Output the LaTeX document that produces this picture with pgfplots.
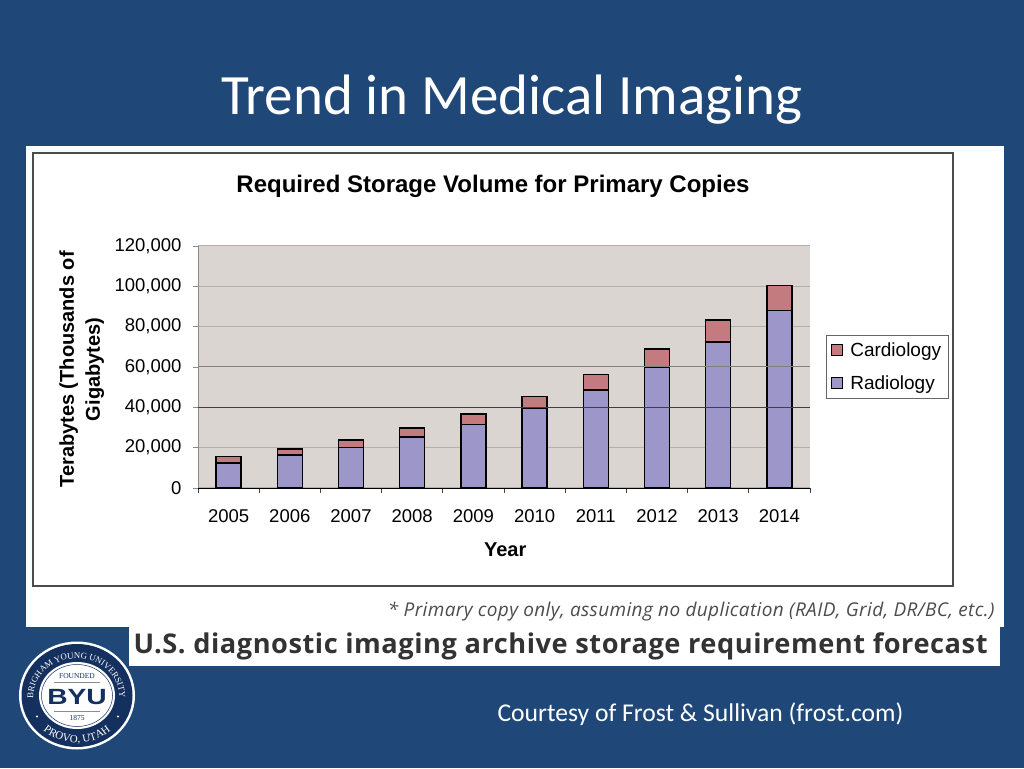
\documentclass[border=0pt]{standalone}
\usepackage{fontspec}
\setmainfont{Liberation Sans}
\newfontfamily\slidefont{Carlito}
\newfontfamily\notefont[LetterSpace=2]{Open Sans}
\newfontfamily\sealfont{Liberation Serif}
\usepackage{pgfplots}
\pgfplotsset{compat=1.18}
\usetikzlibrary{decorations.text}
\definecolor{slideblue}{HTML}{1F4879}
\definecolor{sealblue}{HTML}{14305F}
\definecolor{plotbg}{HTML}{DAD5D1}
\definecolor{radio}{HTML}{9D96C8}
\definecolor{cardio}{HTML}{C37B7F}
\definecolor{gridgrey}{HTML}{B4AFAB}
\pgfplotstableread{
x radiology cardiology
0 12500 3000
1 16300 3000
2 20000 3900
3 25300 4400
4 31400 5300
5 39700 5700
6 48600 7600
7 60000 8900
8 72400 10900
9 88100 12200
}\storage
\begin{document}
\begin{tikzpicture}[x=1pt,y=1pt]
\path[use as bounding box,fill=slideblue] (0,0) rectangle (1024,768);
\fill[white] (26,141) rectangle (1004,622);
\fill[white] (129,102) rectangle (1000,141);
\draw[color=black!70,line width=1.3pt] (33,182) rectangle (953,615);
\node[anchor=base,text=white,font=\slidefont\fontsize{57}{62}\selectfont] at (512,653) {Trend in Medical Imaging};
\begin{axis}[
  at={(198pt,280pt)},anchor=south west,
  width=612pt,height=242pt,scale only axis,
  xmin=-0.5,xmax=9.5,ymin=0,ymax=120000,
  ybar stacked,bar width=25pt,
  axis x line*=bottom,axis y line*=left,
  axis line style={-},
  x axis line style={black,line width=0.9pt},
  y axis line style={black!45,line width=0.9pt},
  axis background/.style={fill=plotbg},
  tick align=outside,
  xtick={0,...,9},
  xticklabels={2005,2006,2007,2008,2009,2010,2011,2012,2013,2014},
  minor xtick={-0.5,0.5,...,9.5},
  major x tick style={draw=none},
  minor x tick style={black!75,line width=0.8pt},
  minor tick length=5pt,
  major tick length=5pt,
  x tick label style={yshift=-13pt},
  y tick label style={xshift=-8pt},
  ytick={0,20000,...,120000},
  y tick style={black!45,line width=0.8pt},
  yticklabel style={/pgf/number format/.cd,fixed,assume math mode=true,1000 sep={,}},
  scaled y ticks=false,
  tick label style={font=\fontsize{18.5}{20}\selectfont},
  ymajorgrids,
  major grid style={gridgrey,line width=1pt},
  title={\textbf{Required Storage Volume for Primary Copies}},
  title style={at={(axis description cs:0.482,1.22)},anchor=center,yshift=0pt,font=\fontsize{24}{26}\selectfont},
  xlabel={\textbf{Year}},
  xlabel style={at={(axis description cs:0.502,-0.256)},anchor=center,font=\fontsize{20}{22}\selectfont},
  ylabel={\textbf{Terabytes (Thousands of}\\\textbf{Gigabytes)}},
  ylabel style={at={(axis description cs:-0.19,0.49)},anchor=center,align=center,font=\fontsize{20}{26}\selectfont},
  reverse legend,
  legend style={at={(1.026,0.632)},anchor=north west,draw=black!60,line width=0.8pt,
    font=\fontsize{19}{21}\selectfont,inner xsep=5pt,inner ysep=5pt,
    /tikz/every odd column/.append style={column sep=5pt},row sep=14pt},
  legend cell align=left,
  legend image code/.code={\draw[#1,line width=1pt] (0pt,-5.5pt) rectangle (11pt,5.5pt);},
]
% two gridlines are darker in the source
\draw[black!50,line width=1pt] (axis cs:-0.5,60000) -- (axis cs:9.5,60000);
\draw[black!75,line width=0.9pt] (axis cs:-0.5,40000) -- (axis cs:9.5,40000);
\addplot[fill=radio,draw=black,line width=1.5pt] table[x=x,y=radiology] {\storage};
\addplot[fill=cardio,draw=black,line width=1.5pt] table[x=x,y=cardiology] {\storage};
\addlegendentry{Radiology}
\addlegendentry{Cardiology}
\end{axis}
% notes under the chart
\node[anchor=base east,text=black!70,font=\notefont\itshape\fontsize{19}{22}\selectfont] at (998,151) {* Primary copy only, assuming no duplication (RAID, Grid, DR/BC, etc.)};
\node[anchor=base west,text=black!80,font=\notefont\bfseries\fontsize{27.2}{30}\selectfont] at (130,115) {U.S. diagnostic imaging archive storage requirement forecast};
\node[anchor=base west,text=white,font=\slidefont\fontsize{25.6}{28}\selectfont] at (494,47) {Courtesy of Frost \& Sullivan (frost.com)};
% seal
\begin{scope}[shift={(77,72.5)}]
\fill[white] (0,0) ellipse [x radius=58,y radius=54];
\fill[sealblue] (0,0) ellipse [x radius=55.5,y radius=51.5];
\fill[white] (0,0) ellipse [x radius=38,y radius=33.5];
\draw[sealblue,line width=0.5pt] (0,0) ellipse [x radius=35.5,y radius=31];
\path[decorate,decoration={text along path,text align=center,
  text={|\sealfont\fontsize{8.8}{10}\selectfont\color{white}|BRIGHAM YOUNG UNIVERSITY}}]
  (-42,-12) arc [start angle=196,end angle=-16,x radius=43,y radius=38.5];
\path[decorate,decoration={text along path,text align=center,
  text={|\sealfont\fontsize{11}{12}\selectfont\color{white}|PROVO, UTAH}}]
  (-47,-17) arc [start angle=200,end angle=340,x radius=50,y radius=46];
\fill[white] (-40,-21) circle (1.2);
\fill[white] (41,-21) circle (1.2);
\node[text=sealblue,font=\sealfont\fontsize{7.5}{8}\selectfont] at (0,19.5) {FOUNDED};
\draw[black!45,line width=0.6pt] (-23,13.5) -- (23,13.5);
\node[text=sealblue,font=\bfseries\fontsize{22}{24}\selectfont,xscale=1.28,transform shape] at (0,-1.5) {BYU};
\draw[black!45,line width=0.6pt] (-23,-15.5) -- (23,-15.5);
\node[text=sealblue,font=\sealfont\fontsize{7.5}{8}\selectfont] at (0,-22.5) {1875};
\end{scope}
\end{tikzpicture}
\end{document}
